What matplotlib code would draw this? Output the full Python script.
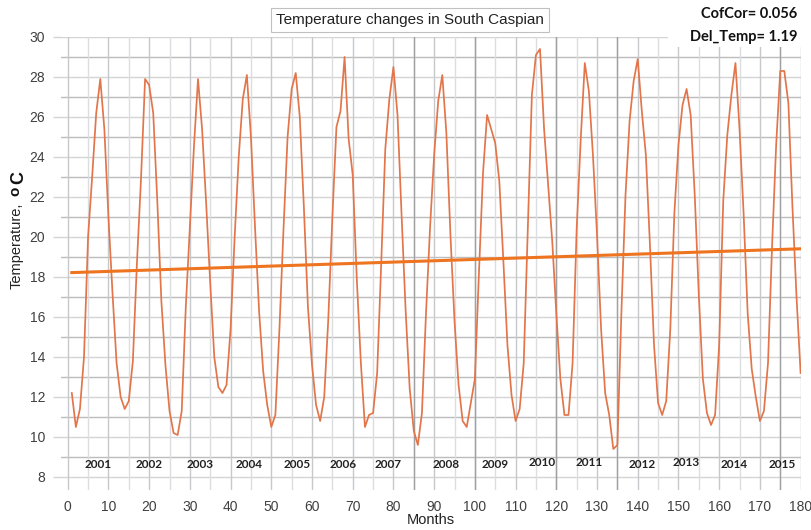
import matplotlib
matplotlib.use("Agg")
import matplotlib.pyplot as plt
from matplotlib.patches import Rectangle
import numpy as np

# ---- data -------------------------------------------------------------
months = list(range(1, 181))
temperature = [
    12.2, 10.5, 11.4, 14.0, 20.0, 23.0, 26.2, 27.9, 25.4, 21.0, 17.2, 13.7,
    12.0, 11.4, 11.8, 13.8, 18.7, 22.9, 27.9, 27.6, 26.2, 21.8, 16.8, 13.6,
    11.3, 10.2, 10.1, 11.3, 16.5, 20.5, 24.5, 27.9, 25.4, 21.7, 17.7, 14.0,
    12.5, 12.2, 12.6, 15.4, 20.0, 24.0, 26.9, 28.1, 25.0, 20.5, 16.3, 13.3,
    11.6, 10.5, 11.1, 15.4, 20.4, 25.0, 27.4, 28.2, 26.0, 21.5, 16.5, 13.6,
    11.6, 10.8, 12.0, 15.9, 21.0, 25.5, 26.3, 29.0, 24.9, 23.1, 17.9, 13.7,
    10.5, 11.1, 11.2, 13.2, 18.7, 24.4, 26.9, 28.5, 26.1, 21.1, 16.3, 12.4,
    10.3, 9.6, 11.2, 16.2, 20.5, 24.1, 26.8, 28.1, 25.2, 20.1, 15.8, 12.6,
    10.8, 10.5, 11.7, 12.9, 18.2, 23.2, 26.1, 25.4, 24.7, 22.8, 18.8, 14.6,
    12.1, 10.8, 11.4, 13.7, 20.4, 27.1, 29.1, 29.4, 25.4, 22.6, 19.8, 16.2,
    12.9, 11.1, 11.1, 13.7, 20.4, 24.9, 28.7, 27.3, 24.1, 20.1, 15.4, 12.2,
    11.1, 9.4, 9.6, 16.3, 22.1, 25.8, 27.8, 28.9, 26.3, 24.1, 19.6, 14.6,
    11.7, 11.1, 11.8, 15.4, 21.2, 24.6, 26.6, 27.4, 26.1, 22.1, 17.1, 12.9,
    11.2, 10.6, 11.1, 14.6, 21.8, 25.1, 27.1, 28.7, 25.4, 21.2, 16.2, 13.4,
    12.0, 10.8, 11.3, 13.7, 19.6, 24.6, 28.3, 28.3, 26.7, 21.5, 17.0, 13.2,
]
trend_months = [1, 180]
trend_values = [18.22, 19.41]

year_labels = ["2001", "2002", "2003", "2004", "2005", "2006", "2007", "2008",
               "2009", "2010", "2011", "2012", "2013", "2014", "2015"]
year_label_pos = [7.4, 20.0, 32.6, 44.5, 56.3, 67.6, 78.6, 92.9,
                  105.0, 116.6, 128.0, 141.0, 151.8, 163.6, 175.6]
year_label_y = [8.6, 8.6, 8.6, 8.6, 8.6, 8.6, 8.6, 8.6,
                8.6, 8.7, 8.7, 8.6, 8.7, 8.6, 8.6]

x_ticks = list(range(0, 181, 10))
y_ticks = list(range(8, 31, 2))

# ---- figure -----------------------------------------------------------
W, H = 811, 530
fig = plt.figure(figsize=(W / 100, H / 100), dpi=100)
fig.patch.set_facecolor("white")

def fx(px):
    return px / W

def fy(py):
    return 1 - py / H

ax = fig.add_axes([fx(61), fy(490), (801 - 61) / W, (490 - 37) / H])
ax.set_xlim(-1.65, 180.1)
ax.set_ylim(7.35, 30)

for s in ax.spines.values():
    s.set_visible(False)

# grid
for v in range(8, 31):
    col = "#d4d4d4" if v % 2 == 0 else "#bcbcbc"
    ax.axhline(v, color=col, lw=1.0, zorder=0)
for m in range(0, 181, 5):
    col = "#c6c8cc" if m % 10 == 0 else "#dcdde0"
    ax.axvline(m, color=col, lw=1.0, zorder=0)
for m in [85, 100, 120, 135, 175]:
    ax.axvline(m, color="#a0a0a0", lw=1.0, zorder=0)

ax.plot(months, temperature, color="#E2754A", lw=1.25, zorder=3)
ax.plot(trend_months, trend_values, color="#EE7420", lw=2.2, zorder=4)

for lab, xp, yp in zip(year_labels, year_label_pos, year_label_y):
    ax.text(xp, yp, lab, ha="center", va="center", fontsize=8.5,
            fontweight="bold", family="Lato", color="#222222", zorder=5)

ax.set_xticks(x_ticks)
ax.set_yticks(y_ticks)
ax.tick_params(axis="x", length=0, pad=7.5, labelsize=10, labelcolor="#404040")
ax.tick_params(axis="y", length=5.8, width=1.0, color="#d4d4d4", pad=5.5,
               labelsize=10, labelcolor="#404040")
for lbl in ax.get_xticklabels() + ax.get_yticklabels():
    lbl.set_family("Liberation Sans")

# x label
fig.text(fx(431), fy(520), "Months", ha="center", va="center",
         fontsize=10.5, family="Liberation Sans", color="#222222")

# y label pieces
fig.text(fx(17), fy(246), "Temperature,", rotation=90, ha="center",
         va="center", fontsize=10.5, family="Liberation Sans", color="#222222")
fig.text(fx(15), fy(191), "o", rotation=90, ha="center", va="center",
         fontsize=11, fontweight="bold", family="Liberation Sans", color="#111111")
fig.text(fx(19), fy(178), "C", rotation=90, ha="center", va="center",
         fontsize=13, fontweight="bold", family="Liberation Sans", color="#111111")

# title box
fig.text(fx(410), fy(20), "Temperature changes in South Caspian",
         ha="center", va="center", fontsize=11, family="Liberation Sans",
         color="#222222",
         bbox=dict(boxstyle="square,pad=0.35", facecolor="white",
                   edgecolor="#c0c0c0", lw=0.8))

# white patch behind the stats text
fig.add_artist(Rectangle((fx(668), fy(47)), fx(811 - 668), 47 / H,
                         transform=fig.transFigure, facecolor="white",
                         edgecolor="none", zorder=2))
fig.text(fx(797), fy(14), "CofCor= 0.056", ha="right", va="center",
         fontsize=10.5, fontweight="bold", family="Lato", color="#111111",
         zorder=3)
fig.text(fx(797), fy(37), "Del_Temp= 1.19", ha="right", va="center",
         fontsize=10.5, fontweight="bold", family="Lato", color="#111111",
         zorder=3)

fig.savefig("out.png", dpi=100, facecolor="white")
